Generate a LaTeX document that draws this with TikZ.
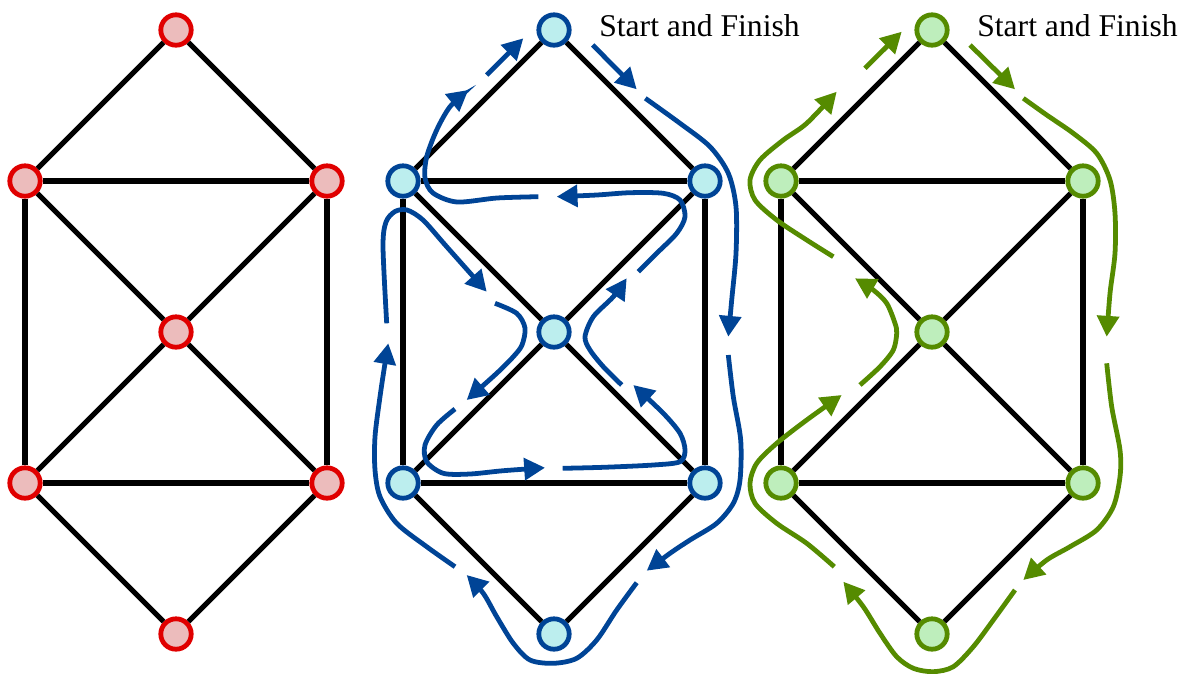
\documentclass[tikz,border=0pt]{standalone}
\usepackage{fontspec}
\setmainfont{Liberation Serif}
\usepackage{tikz}
\usetikzlibrary{arrows.meta}
\usepackage{xcolor}

\definecolor{redline}{RGB}{224,0,0}
\definecolor{redfill}{RGB}{236,188,188}
\definecolor{blueline}{RGB}{0,68,150}
\definecolor{bluefill}{RGB}{188,238,238}
\definecolor{greenline}{RGB}{85,139,0}
\definecolor{greenfill}{RGB}{190,238,188}

\tikzset{
  vertex/.style={circle,draw=#1line,fill=#1fill,line width=3.4pt,
    minimum size=0.76cm,inner sep=0pt},
  edge/.style={line width=3.7pt,black},
  route/.style={draw=#1line,line width=3.4pt,
    -{Triangle[length=0.52cm,width=0.54cm]}},
  label/.style={anchor=base west,inner sep=0pt,
    font=\fontsize{22.5}{27}\selectfont}
}

\begin{document}
\begin{tikzpicture}[x=0.025cm,y=-0.025cm]
		\useasboundingbox (0,0) rectangle (1189,673);
		
		% The three copies of the graph
		\foreach \g/\cx in {red/176,blue/554,green/932}{
			\node[vertex=\g] (\g-T)  at (\cx,30) {};
			\node[vertex=\g] (\g-LU) at (\cx-151,181) {};
			\node[vertex=\g] (\g-RU) at (\cx+151,181) {};
			\node[vertex=\g] (\g-C)  at (\cx,332) {};
			\node[vertex=\g] (\g-LL) at (\cx-151,483) {};
			\node[vertex=\g] (\g-RL) at (\cx+151,483) {};
			\node[vertex=\g] (\g-B)  at (\cx,634) {};
			\foreach \a/\b in {T/LU,T/RU,LU/RU,LU/LL,RU/RL,LU/C,RU/C,C/LL,C/RL,LL/RL,LL/B,RL/B}
			\draw[edge] (\g-\a) -- (\g-\b);
		}
		
		\node[label] (bluestart) at (599,36) {Start and Finish};
		\node[label] (greenstart) at (977,36) {Start and Finish};
		
		% Euler circuit
		\draw[route=blue] (592.7,45) -- (636.7,89.3);
		\draw[route=blue] plot[smooth] coordinates {(645.3,98.3) (680,123.3) (710,146.7) (728.3,173.3) (736,206.7) (736,253.3) (731.7,300) (728.3,336.7)};
		\draw[route=blue] plot[smooth] coordinates {(728.3,355) (733.3,396.7) (740.7,440) (740,480) (733.3,503.3) (716.7,523.3) (690,540) (670,553.3) (646.7,570.7)};
		\draw[route=blue] plot[smooth] coordinates {(636.7,582.7) (616.7,610) (596.7,640) (576.7,658.3) (553.3,663.3) (530,660) (513.3,643.3) (496.7,616.7) (483.3,593.3) (466.7,575)};
		\draw[route=blue] plot[smooth] coordinates {(455,566.7) (426.7,546.7) (396.7,523.3) (380,496.7) (375,470) (375,436.7) (380,396.7) (385,363.3) (388.3,343.3)};
		\draw[route=blue] plot[smooth] coordinates {(386.7,323.3) (383,246.7) (386,222) (395,211.5) (407,210) (423,220) (446.7,246.7) (486.7,291.7)};
		\draw[route=blue] plot[smooth] coordinates {(495,303.3) (516.7,313.3) (525,328) (522,345) (513.3,356.7) (496.7,373.3) (466.7,400)};
		\draw[route=blue] plot[smooth] coordinates {(455,409) (436.7,425) (425,445) (426.7,461.7) (443.3,473.3) (470,474) (503.3,470.7) (545,467.7)};
		\draw[route=blue] plot[smooth] coordinates {(562.7,468.3) (603.3,467.3) (653.3,465) (680,461.7) (685,450) (680,433.3) (663.3,413.3) (633.3,385)};
		\draw[route=blue] plot[smooth] coordinates {(621.7,385) (603.3,366.7) (590,350) (585,336.7) (593.3,316.7) (613.3,296.7) (626.7,278.3)};
		\draw[route=blue] plot[smooth] coordinates {(638.3,271.7) (656.7,253.3) (676.7,233.3) (685,216.7) (680,200) (663.3,193.3) (630,192.7) (596.7,195) (556.7,196.7)};
		\draw[route=blue] plot[smooth] coordinates {(538.3,196.7) (497,198) (457,202) (433,193) (425,178) (426.7,156.7) (436.7,130) (450,106.7) (468.3,90)};
		\draw[route=blue] (486.7,75) -- (523.3,38.3);
		
		% Hamilton cycle
		\draw[route=green] (970,45) -- (1015,89.3);
		\draw[route=green] plot[smooth] coordinates {(1023.3,98.3) (1046.7,115) (1073.3,133.3) (1096.7,153.3) (1110,180) (1115,213.3) (1115,253.3) (1110,293.3) (1106.7,336.7)};
		\draw[route=green] plot[smooth] coordinates {(1106.7,363.3) (1111.7,406.7) (1120,450) (1120,476.7) (1113.3,506.7) (1096.7,530) (1070,546.7) (1046.7,560) (1023.3,580)};
		\draw[route=green] plot[smooth] coordinates {(1015,590) (993.3,620) (973.3,646.7) (953.3,666.7) (933.3,671.7) (913.3,668.3) (896.7,656.7) (880,633.3) (863.3,606.7) (843.3,581.7)};
		\draw[route=green] plot[smooth] coordinates {(834.3,566.7) (806.7,543.3) (776.7,523.3) (755,503.3) (750,483.3) (756.7,463.3) (776.7,443.3) (806.7,420) (841.7,395)};
		\draw[route=green] plot[smooth] coordinates {(860,385) (880,366.7) (893.3,350) (896.7,333.3) (895,323.3) (886.7,303.3) (873.3,290) (855,278.3)};
		\draw[route=green] plot[smooth] coordinates {(833.3,256.7) (806.7,240) (776.7,220) (755,200) (750,180) (760,160) (783.3,140) (806.7,123.3) (836.7,91.7)};
		\draw[route=green] (865,68.3) -- (901.7,31.7);
		
	\end{tikzpicture}
\end{document}
